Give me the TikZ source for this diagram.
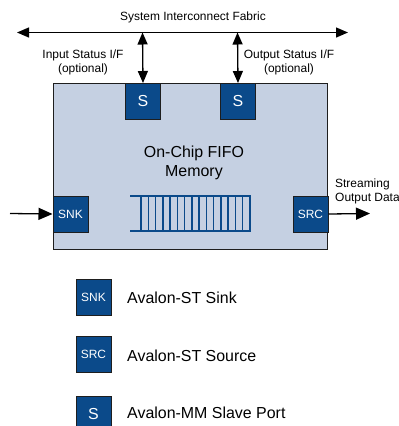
\documentclass[tikz,border=0pt]{standalone}
\usepackage{fontspec}
\setmainfont{Liberation Sans}
\usetikzlibrary{arrows.meta}
\definecolor{portblue}{RGB}{11,74,138}
\definecolor{boxfill}{RGB}{197,208,226}
\definecolor{edge}{RGB}{30,30,30}
\begin{document}
\begin{tikzpicture}[x=1bp,y=-1bp,
  port/.style={draw=edge,line width=1bp,fill=portblue,text=white,minimum width=35bp,minimum height=36bp,inner sep=0pt,anchor=north west,font=\fontsize{12}{14}\selectfont},
  bigport/.style={port,font=\fontsize{16}{18}\selectfont},
  lbl/.style={font=\fontsize{12}{14}\selectfont,inner sep=0pt,align=center},
  legend/.style={font=\fontsize{16}{18}\selectfont,inner sep=0pt,anchor=west},
  arr/.style={line width=1.3bp,-{Triangle[length=14bp,width=12bp]}},
  darr/.style={line width=1.3bp,{Triangle[length=12bp,width=10bp]}-{Triangle[length=12bp,width=10bp]}},
  ladder/.style={draw=portblue,line width=1.5bp}]
\useasboundingbox (0,0) rectangle (399,426);
% main box
\node[draw=edge,line width=1bp,fill=boxfill,minimum width=274bp,minimum height=166bp,inner sep=0pt,anchor=north west] (fifo) at (53,83) {};
% bus
\coordinate (busL) at (17,32.5);
\coordinate (busR) at (348,32.5);
\draw[darr] (busL) -- (busR);
\node[lbl] (title) at (193,17) {System Interconnect Fabric};
% S ports
\node[bigport] (s1) at (125,83) {S};
\node[bigport] (s2) at (220,83) {S};
\coordinate (b1) at (142.5,32.5);
\coordinate (b2) at (237.5,32.5);
\draw[darr] (b1) -- (s1.north);
\draw[darr] (b2) -- (s2.north);
\node[lbl] (inlbl) at (83,62) {Input Status I/F\\(optional)};
\node[lbl] (outlbl) at (289,62) {Output Status I/F\\(optional)};
% title in box
\node[font=\fontsize{16}{18.5}\selectfont,align=center,inner sep=0pt] (mem) at (194,163) {On-Chip FIFO\\Memory};
% SNK / SRC
\node[port] (snk) at (52.5,195.5) {SNK};
\node[port] (src) at (292.5,195.5) {SRC};
\coordinate (inL) at (10,213.5);
\coordinate (outR) at (370,213.5);
\draw[arr] (inL) -- (snk.west);
\draw[arr] (src.east) -- (outR);
\node[lbl,anchor=north west,align=left] (stream) at (335,179) {Streaming\\Output Data};
% ladder
\draw[ladder] (130,196) -- (250,196) -- (250,231) -- (130,231);
\foreach \i in {0,...,14} {
  \draw[ladder] ({141+\i*109/15},196) -- ({141+\i*109/15},231);
}
% legend
\node[port] (lsnk) at (75.5,278.5) {SNK};
\node[legend] (tsnk) at (127,298) {Avalon-ST Sink};
\node[port] (lsrc) at (75.5,336) {SRC};
\node[legend] (tsrc) at (127,355.5) {Avalon-ST Source};
\node[bigport] (ls) at (75.5,396) {S};
\node[legend] (ts) at (127,412.5) {Avalon-MM Slave Port};
\end{tikzpicture}
\end{document}
